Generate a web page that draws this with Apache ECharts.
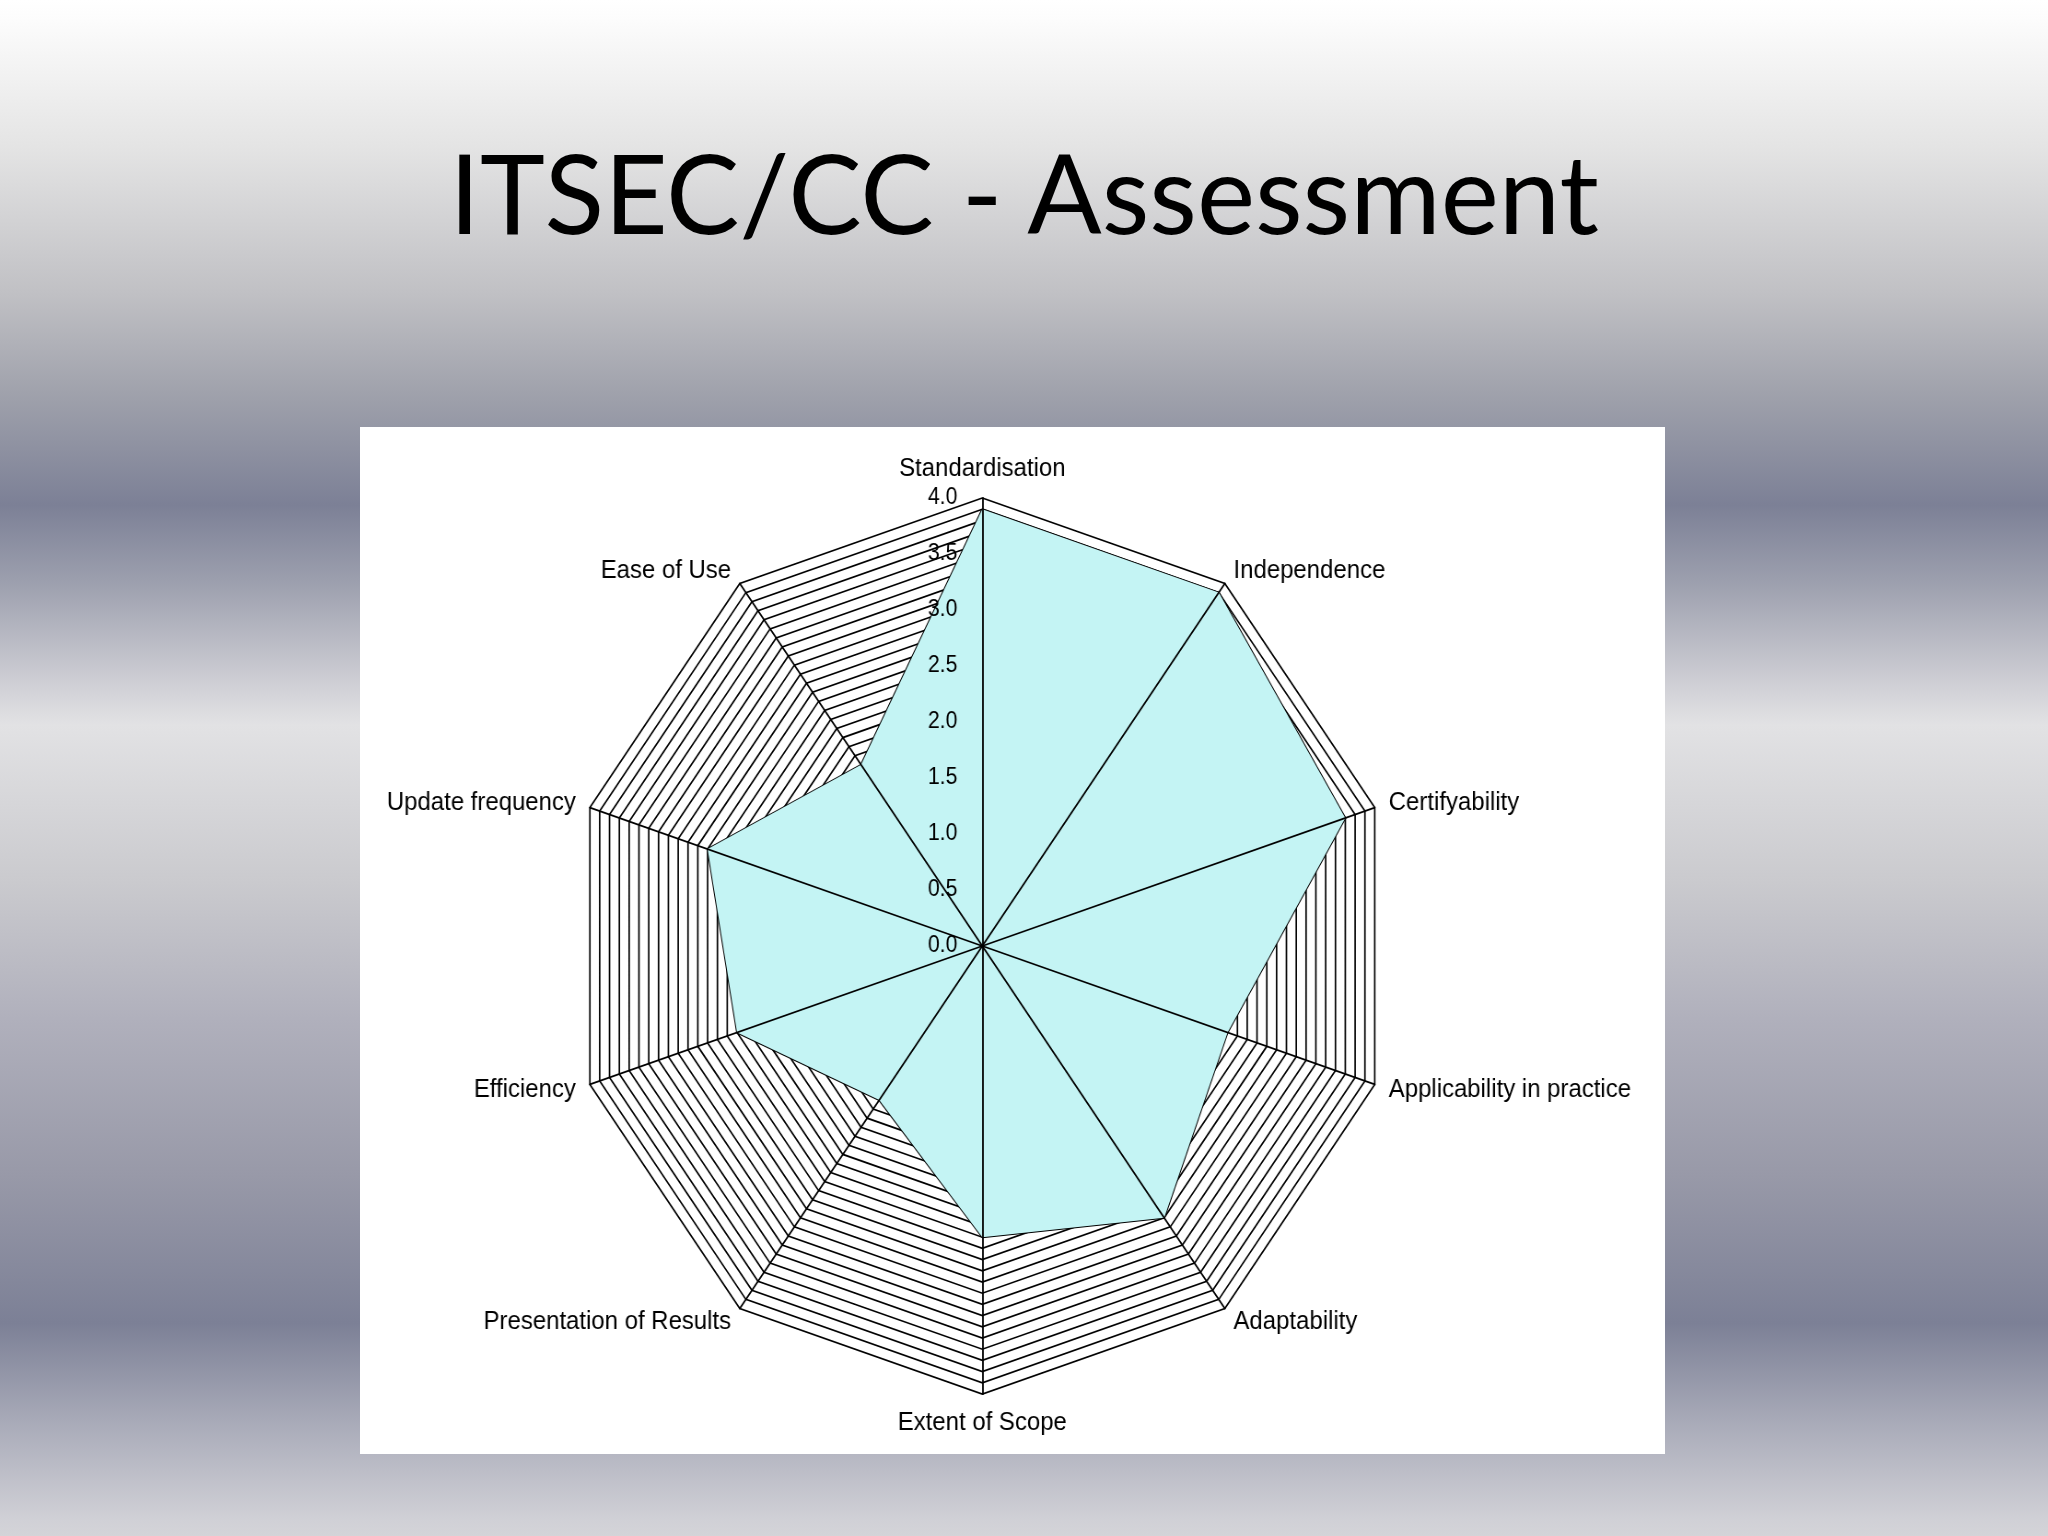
<!DOCTYPE html>
<html>
<head>
<meta charset="utf-8">
<script src="https://cdn.jsdelivr.net/npm/echarts@6/dist/echarts.min.js"></script>
<style>
  html, body { margin: 0; padding: 0; }
  body {
    width: 2048px; height: 1536px; position: relative; overflow: hidden;
    background: linear-gradient(to bottom,
      #ffffff 0px, #fcfcfc 20px, #e4e4e4 147px, #c0c0c4 294px, #a0a2ac 392px,
      #7c8096 505px, #9fa2b0 588px, #d0d0d6 686px, #e2e2e4 725px, #cacace 882px,
      #b0b0bc 1019px, #9899a8 1176px, #7c8096 1323px, #a8aab8 1421px,
      #d0d0d6 1519px, #d4d4d8 1536px);
  }
  #title {
    position: absolute; left: 0; width: 2048px; top: 136px;
    text-align: center; font-family: Lato, "Open Sans", sans-serif;
    font-size: 110px; line-height: 110px; color: #000; white-space: nowrap;
  }
  #panel {
    position: absolute; left: 360px; top: 427px; width: 1305px; height: 1027px;
    background: #ffffff;
  }
  #chart {
    position: absolute; left: 0; top: 0; width: 2048px; height: 1536px;
    transform: scaleX(0.921); transform-origin: 982.3px 0;
  }
</style>
</head>
<body>
<div id="title">ITSEC/CC - Assessment</div>
<div id="panel"></div>
<div id="chart"></div>
<script>
// ---- data ----
const titleText = 'ITSEC/CC - Assessment';
const categories = ['Standardisation', 'Independence', 'Certifyability',
  'Applicability in practice', 'Adaptability', 'Extent of Scope',
  'Presentation of Results', 'Efficiency', 'Update frequency', 'Ease of Use'];
const scores = [3.9, 3.9, 3.7, 2.5, 3.0, 2.6, 1.7, 2.5, 2.8, 2.0];
const scaleMin = 0;
const scaleMax = 4;
const ringStep = 0.1;
const tickLabels = ['0.0', '0.5', '1.0', '1.5', '2.0', '2.5', '3.0', '3.5', '4.0'];

// ECharts lays radar indicators counter-clockwise; the reference runs clockwise.
const order = [0].concat(categories.map((_, i) => i).slice(1).reverse());
const ordCats = order.map(i => categories[i]);
const ordScores = order.map(i => scores[i]);
const splitCount = Math.round((scaleMax - scaleMin) / ringStep);

const chart = echarts.init(document.getElementById('chart'), null, { renderer: 'canvas' });

const geom = { center: [982.3, 946], radius: 448, startAngle: 90, shape: 'polygon' };
const fontFam = '"Liberation Sans", Arial, sans-serif';

chart.setOption({
  animation: false,
  backgroundColor: 'transparent',
  radar: [
    Object.assign({}, geom, {
      z: 1,
      splitNumber: splitCount,
      indicator: ordCats.map(n => ({ name: n, min: scaleMin, max: scaleMax })),
      axisName: { show: false },
      axisLine: { show: false },
      axisTick: { show: false },
      axisLabel: { show: false },
      splitArea: { show: false },
      splitLine: { show: true, lineStyle: { color: '#000000', width: 1.7 } }
    }),
    Object.assign({}, geom, {
      z: 10,
      splitNumber: splitCount,
      nameGap: 16,
      indicator: ordCats.map((n, k) => ({
        name: n, min: scaleMin, max: scaleMax,
        axisLabel: { show: k === 0 }
      })),
      axisName: { color: '#000000', fontSize: 26, fontFamily: fontFam },
      axisLine: { show: true, lineStyle: { color: '#000000', width: 1.8 } },
      axisTick: { show: false },
      splitArea: { show: false },
      splitLine: { show: false },
      axisLabel: {
        show: false, color: '#000000', fontSize: 23, fontFamily: fontFam, margin: 27,
        formatter: function (v) {
          const s = Number(v).toFixed(1);
          return tickLabels.indexOf(s) >= 0 && Math.abs(Math.round(v * 2) - v * 2) < 1e-6 ? s : '';
        }
      }
    })
  ],
  series: [{
    type: 'radar',
    radarIndex: 0,
    z: 5,
    symbol: 'none',
    lineStyle: { color: '#000000', width: 2 },
    areaStyle: { color: '#c4f4f4', opacity: 1 },
    data: [{ value: ordScores, name: titleText }]
  }]
});
</script>
</body>
</html>
